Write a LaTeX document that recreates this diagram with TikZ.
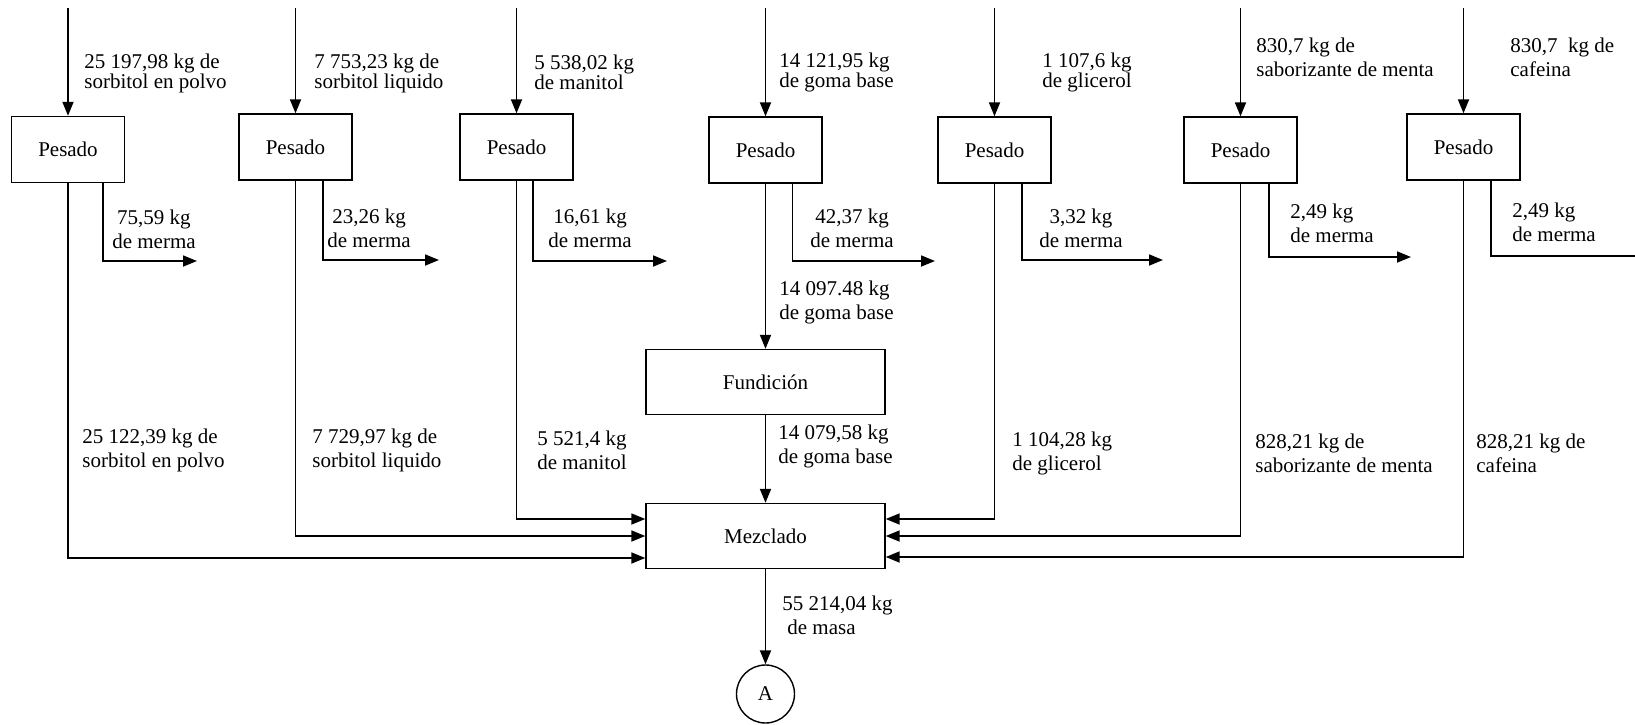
\documentclass[tikz,border=0pt]{standalone}
\usepackage{fontspec}
\setmainfont{Liberation Serif}
\usetikzlibrary{arrows.meta}
\begin{document}
\begin{tikzpicture}[x=0.5pt,y=-0.5pt,
  flow/.style={line width=0.9pt,-{Triangle[length=7pt,width=5.5pt]}},
  proc/.style={draw,line width=0.7pt,minimum width=56.5pt,minimum height=33pt,
    inner sep=0pt,font=\fontsize{10.5}{11}\selectfont},
  wide/.style={proc,minimum width=119.5pt,minimum height=32.5pt},
  conn/.style={draw,circle,line width=0.7pt,minimum size=29pt,inner sep=0pt,
    font=\fontsize{10.5}{11}\selectfont},
  lab/.style={anchor=west,align=left,inner sep=0pt,font=\fontsize{10.5}{12}\selectfont},
  tight/.style={font=\fontsize{10.5}{10}\selectfont},
  labc/.style={lab,anchor=center,align=center}]
\useasboundingbox (0,0) rectangle (1635,724);

% weighing steps
\node[proc] (p1) at (68,149.5)   {Pesado};
\node[proc] (p2) at (295.5,147)  {Pesado};
\node[proc] (p3) at (516.5,147)  {Pesado};
\node[proc] (p4) at (765.5,150)  {Pesado};
\node[proc] (p5) at (994.5,150)  {Pesado};
\node[proc] (p6) at (1240.5,150) {Pesado};
\node[proc] (p7) at (1463.5,147) {Pesado};

% melting, mixing and connector
\node[wide] (fu) at (765.5,382) {Fundición};
\node[wide] (mz) at (765.5,536) {Mezclado};
\node[conn] (A)  at (765.5,694) {A};

% raw material inputs
\coordinate (i1) at (68,8);
\coordinate (i2) at (295.5,8);
\coordinate (i3) at (516.5,8);
\coordinate (i4) at (765.5,8);
\coordinate (i5) at (994.5,8);
\coordinate (i6) at (1240.5,8);
\coordinate (i7) at (1463.5,8);
\foreach \k in {1,...,7} \draw[flow] (i\k) -- (p\k);

% waste outputs
\coordinate (w1) at (197,261);
\coordinate (w2) at (439,260);
\coordinate (w3) at (667,261);
\coordinate (w4) at (935,261);
\coordinate (w5) at (1163,260);
\coordinate (w6) at (1411,257);
\coordinate (w7) at (1652,256);
\draw[flow] ([xshift=17.5pt]p1.south) |- (w1);
\draw[flow] ([xshift=13.75pt]p2.south) |- (w2);
\draw[flow] ([xshift=8.25pt]p3.south) |- (w3);
\draw[flow] ([xshift=13.5pt]p4.south) |- (w4);
\draw[flow] ([xshift=13.75pt]p5.south) |- (w5);
\draw[flow] ([xshift=14.25pt]p6.south) |- (w6);
\draw[flow] ([xshift=13.75pt]p7.south) |- (w7);

% main flow
\draw[flow] (p4) -- (fu);
\draw[flow] (fu) -- (mz);
\draw[flow] (mz) -- (A);
\draw[flow] (p3) |- ([yshift=8.5pt]mz.west);
\draw[flow] (p2) |- (mz.west);
\draw[flow] (p1) |- ([yshift=-11pt]mz.west);
\draw[flow] (p5) |- ([yshift=8.5pt]mz.east);
\draw[flow] (p6) |- (mz.east);
\draw[flow] (p7) |- ([yshift=-10.5pt]mz.east);

% input quantities
\node[lab,tight] (t1) at (84,73)   {25 197,98 kg de\\sorbitol en polvo};
\node[lab,tight] (t2) at (314,73)  {7 753,23 kg de\\sorbitol liquido};
\node[lab,tight] (t3) at (534,72)  {5 538,02 kg\\de manitol};
\node[lab,tight] (t4) at (779,72)  {14 121,95 kg\\de goma base};
\node[lab,tight] (t5) at (1042,72) {1 107,6 kg\\de glicerol};
\node[lab] (t6) at (1256,57.5) {830,7 kg de\\saborizante de menta};
\node[lab] (t7) at (1510,57.5) {830,7\enspace kg de\\cafeina};

% waste quantities
\node[labc] (m1) at (154,229)  {75,59 kg\\de merma};
\node[labc] (m2) at (369,228)  {23,26 kg\\de merma};
\node[labc] (m3) at (590,228)  {16,61 kg\\de merma};
\node[labc] (m4) at (852,228)  {42,37 kg\\de merma};
\node[labc] (m5) at (1081,228) {3,32 kg\\de merma};
\node[lab]  (m6) at (1290,223) {2,49 kg\\de merma};
\node[lab]  (m7) at (1512,222) {2,49 kg\\de merma};

% quantities entering the mixer
\node[lab] (g1) at (779,302.5)  {14 097.48 kg\\de goma base};
\node[lab] (s1) at (82,450.5)   {25 122,39 kg de\\sorbitol en polvo};
\node[lab] (s2) at (312,450.5)  {7 729,97 kg de\\sorbitol liquido};
\node[lab] (s3) at (537,450.5)  {5 521,4 kg\\de manitol};
\node[lab] (s4) at (778,446)    {14 079,58 kg\\de goma base};
\node[lab] (s5) at (1012,453)   {1 104,28 kg\\de glicerol};
\node[lab] (s6) at (1255,453)   {828,21 kg de\\saborizante de menta};
\node[lab] (s7) at (1476,453)   {828,21 kg de\\cafeina};
\node[lab] (ms) at (782,615.5)  {55 214,04 kg\\\hspace*{2.5pt}de masa};
\end{tikzpicture}
\end{document}
